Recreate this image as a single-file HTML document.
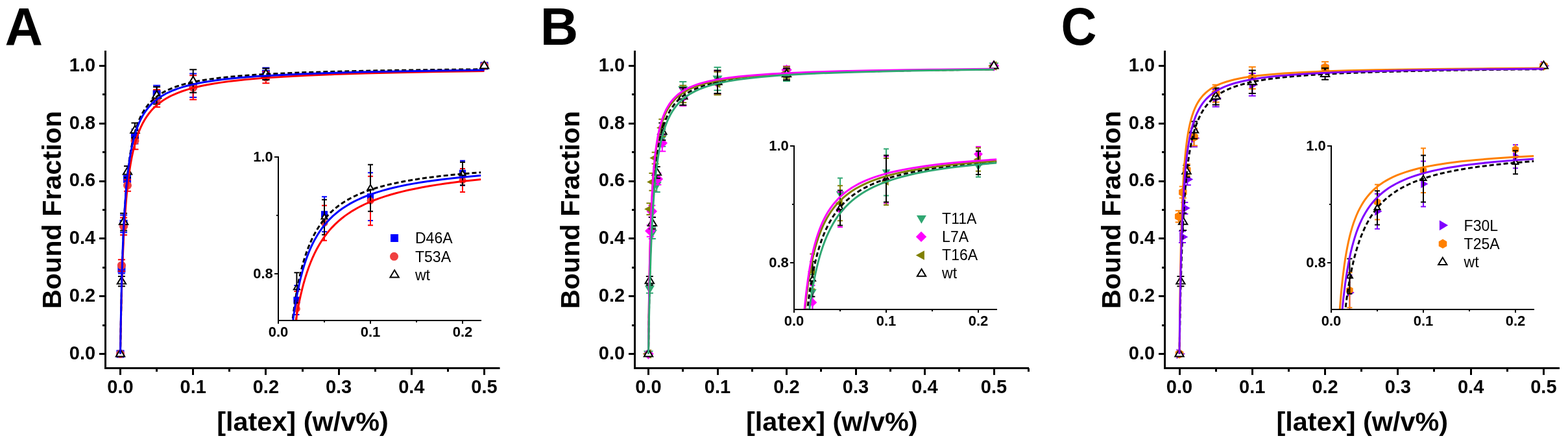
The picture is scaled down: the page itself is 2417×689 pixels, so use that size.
<!DOCTYPE html>
<html><head><meta charset="utf-8"><title>Bound fraction vs latex</title>
<style>html,body{margin:0;padding:0;background:#fff;}svg{display:block;}</style>
</head><body>
<svg width="2417" height="689" viewBox="0 0 2417 689">
<rect width="2417" height="689" fill="#fff"/>
<text transform="translate(7.47,68.8) scale(1.0,1)" font-size="81" font-family="Liberation Sans, Arial, sans-serif" font-weight="bold">A</text>
<text transform="translate(93.9,323.5) rotate(-90)" text-anchor="middle" font-size="41.3" font-family="Liberation Sans, Arial, sans-serif" font-weight="bold">Bound Fraction</text>
<text x="466.5" y="664" text-anchor="middle" font-size="41.4" font-family="Liberation Sans, Arial, sans-serif" font-weight="bold">[latex] (w/v%)</text>
<clipPath id="clipmA"><rect x="162.5" y="78" width="608" height="489.5"/></clipPath>
<g clip-path="url(#clipmA)">
<path d="M187.41 421.62V406.53M181.91 421.62H192.91M181.91 406.53H192.91" stroke="#0000FF" stroke-width="2" fill="none"/>
<path d="M190.55 358.13V331.49M185.05 358.13H196.05M185.05 331.49H196.05" stroke="#0000FF" stroke-width="2" fill="none"/>
<path d="M196.05 284.87V267.11M190.55 284.87H201.55M190.55 267.11H201.55" stroke="#0000FF" stroke-width="2" fill="none"/>
<path d="M207.94 221.38V199.18M202.44 221.38H213.44M202.44 199.18H213.44" stroke="#0000FF" stroke-width="2" fill="none"/>
<path d="M241.6 158.33V131.69M236.1 158.33H247.1M236.1 131.69H247.1" stroke="#0000FF" stroke-width="2" fill="none"/>
<path d="M297.7 149.9V113.49M292.2 149.9H303.2M292.2 113.49H303.2" stroke="#0000FF" stroke-width="2" fill="none"/>
<path d="M409.9 123.03V104.39M404.4 123.03H415.4M404.4 104.39H415.4" stroke="#0000FF" stroke-width="2" fill="none"/>
<rect x="179.5" y="539.5" width="12" height="12" fill="#0000FF"/>
<rect x="181.41" y="408.08" width="12" height="12" fill="#0000FF"/>
<rect x="184.55" y="338.81" width="12" height="12" fill="#0000FF"/>
<rect x="190.05" y="269.99" width="12" height="12" fill="#0000FF"/>
<rect x="201.94" y="204.28" width="12" height="12" fill="#0000FF"/>
<rect x="235.6" y="139.01" width="12" height="12" fill="#0000FF"/>
<rect x="291.7" y="125.69" width="12" height="12" fill="#0000FF"/>
<rect x="403.9" y="107.71" width="12" height="12" fill="#0000FF"/>
<rect x="740.5" y="95.5" width="12" height="12" fill="#0000FF"/>
<path d="M187.41 418.07V400.31M181.91 418.07H192.91M181.91 400.31H192.91" stroke="#FF0000" stroke-width="2" fill="none"/>
<path d="M190.55 362.13V335.49M185.05 362.13H196.05M185.05 335.49H196.05" stroke="#FF0000" stroke-width="2" fill="none"/>
<path d="M196.5 294.64V276.88M191 294.64H202M191 276.88H202" stroke="#FF0000" stroke-width="2" fill="none"/>
<path d="M207.94 230.26V203.62M202.44 230.26H213.44M202.44 203.62H213.44" stroke="#FF0000" stroke-width="2" fill="none"/>
<path d="M241.6 164.99V138.35M236.1 164.99H247.1M236.1 138.35H247.1" stroke="#FF0000" stroke-width="2" fill="none"/>
<path d="M297.7 153.45V116.15M292.2 153.45H303.2M292.2 116.15H303.2" stroke="#FF0000" stroke-width="2" fill="none"/>
<path d="M409.9 128.14V110.38M404.4 128.14H415.4M404.4 110.38H415.4" stroke="#FF0000" stroke-width="2" fill="none"/>
<circle cx="185.5" cy="545.5" r="6.5" fill="#F04040"/>
<circle cx="187.41" cy="409.19" r="6.5" fill="#F04040"/>
<circle cx="190.55" cy="348.81" r="6.5" fill="#F04040"/>
<circle cx="196.5" cy="285.76" r="6.5" fill="#F04040"/>
<circle cx="207.94" cy="216.94" r="6.5" fill="#F04040"/>
<circle cx="241.6" cy="151.67" r="6.5" fill="#F04040"/>
<circle cx="297.7" cy="134.8" r="6.5" fill="#F04040"/>
<circle cx="409.9" cy="119.26" r="6.5" fill="#F04040"/>
<circle cx="746.5" cy="101.5" r="6.5" fill="#F04040"/>
<path d="M187.41 441.16V426.06M181.91 441.16H192.91M181.91 426.06H192.91" stroke="#000" stroke-width="2" fill="none"/>
<path d="M190.55 355.47V328.83M185.05 355.47H196.05M185.05 328.83H196.05" stroke="#000" stroke-width="2" fill="none"/>
<path d="M196.5 273.77V256.01M191 273.77H202M191 256.01H202" stroke="#000" stroke-width="2" fill="none"/>
<path d="M207.94 212.5V189.41M202.44 212.5H213.44M202.44 189.41H213.44" stroke="#000" stroke-width="2" fill="none"/>
<path d="M241.6 160.55V133.91M236.1 160.55H247.1M236.1 133.91H247.1" stroke="#000" stroke-width="2" fill="none"/>
<path d="M297.7 142.79V107.27M292.2 142.79H303.2M292.2 107.27H303.2" stroke="#000" stroke-width="2" fill="none"/>
<path d="M409.9 122.9V105.41M404.4 122.9H415.4M404.4 105.41H415.4" stroke="#000" stroke-width="2" fill="none"/>
<polygon points="185.5,538.35 192.19,549.47 178.81,549.47" fill="#fff" stroke="#000" stroke-width="2"/>
<polygon points="187.41,426.46 194.09,437.59 180.72,437.59" fill="#fff" stroke="#000" stroke-width="2"/>
<polygon points="190.55,335 197.24,346.12 183.86,346.12" fill="#fff" stroke="#000" stroke-width="2"/>
<polygon points="196.5,257.74 203.18,268.87 189.81,268.87" fill="#fff" stroke="#000" stroke-width="2"/>
<polygon points="207.94,193.8 214.63,204.93 201.25,204.93" fill="#fff" stroke="#000" stroke-width="2"/>
<polygon points="241.6,140.08 248.29,151.21 234.91,151.21" fill="#fff" stroke="#000" stroke-width="2"/>
<polygon points="297.7,117.88 304.39,129.01 291.01,129.01" fill="#fff" stroke="#000" stroke-width="2"/>
<polygon points="409.9,107 416.59,118.13 403.21,118.13" fill="#fff" stroke="#000" stroke-width="2"/>
<polygon points="746.5,94.35 753.19,105.47 739.81,105.47" fill="#fff" stroke="#000" stroke-width="2"/>
<path d="M185.50 545.50 L186.52 487.57 L187.67 437.64 L188.98 394.25 L190.50 356.41 L192.25 323.19 L194.25 294.48 L196.53 269.68 L197.81 258.33 L199.17 247.80 L200.63 238.04 L202.17 229.01 L203.86 220.37 L205.65 212.42 L207.61 204.86 L209.68 197.91 L211.87 191.53 L214.24 185.48 L216.82 179.76 L219.54 174.53 L222.49 169.59 L225.58 165.08 L228.92 160.83 L232.53 156.83 L236.43 153.08 L240.51 149.66 L244.91 146.45 L249.63 143.44 L254.71 140.62 L260.16 138.00 L266.01 135.54 L272.28 133.25 L278.99 131.12 L286.17 129.13 L293.84 127.29 L302.22 125.53 L310.97 123.93 L320.51 122.42 L330.68 121.02 L341.50 119.71 L353.26 118.48 L365.76 117.34 L393.43 115.30 L425.47 113.50 L462.44 111.93 L504.63 110.58 L553.35 109.39 L609.05 108.37 L672.94 107.48 L746.50 106.70" fill="none" stroke="#000" stroke-width="3" stroke-dasharray="7 4"/>
<path d="M185.50 545.50 L186.36 494.57 L187.55 445.69 L188.96 403.14 L190.61 366.09 L192.52 333.80 L194.72 305.62 L195.96 292.75 L197.25 281.07 L198.67 269.77 L200.20 259.24 L201.83 249.44 L203.56 240.32 L205.40 231.86 L207.41 223.75 L209.54 216.25 L211.87 209.09 L214.32 202.47 L216.91 196.37 L219.72 190.55 L222.67 185.19 L225.87 180.09 L229.33 175.26 L232.96 170.81 L236.87 166.60 L241.09 162.62 L245.52 158.96 L250.27 155.50 L255.38 152.23 L260.86 149.16 L266.74 146.26 L273.04 143.54 L279.79 140.98 L287.00 138.58 L294.54 136.37 L302.58 134.30 L311.35 132.32 L320.51 130.49 L330.47 128.75 L341.07 127.11 L352.35 125.58 L364.34 124.15 L377.08 122.81 L405.23 120.37 L437.44 118.20 L474.22 116.27 L515.74 114.59 L562.86 113.10 L616.59 111.78 L677.25 110.61 L746.50 109.58" fill="none" stroke="#FF0000" stroke-width="3"/>
<path d="M185.50 545.50 L186.31 491.76 L187.38 441.52 L188.66 397.53 L190.15 359.73 L191.86 327.13 L193.87 298.47 L195.00 285.45 L196.17 273.72 L197.48 262.39 L198.87 251.88 L200.36 242.14 L201.94 233.11 L203.68 224.49 L205.53 216.54 L207.48 209.20 L209.61 202.22 L211.87 195.80 L214.32 189.71 L216.91 184.11 L219.72 178.81 L222.76 173.80 L225.96 169.20 L229.43 164.87 L233.06 160.90 L236.98 157.15 L241.21 153.62 L245.76 150.31 L250.66 147.19 L255.92 144.27 L261.57 141.53 L267.63 138.97 L273.97 136.63 L280.91 134.39 L288.35 132.30 L296.30 130.34 L304.79 128.51 L313.85 126.81 L323.51 125.22 L333.81 123.74 L345.00 122.33 L356.90 121.03 L369.57 119.81 L397.84 117.58 L429.99 115.64 L466.75 113.93 L508.98 112.43 L556.99 111.12 L612.21 109.96 L675.10 108.95 L746.50 108.06" fill="none" stroke="#0000FF" stroke-width="3"/>
</g>
<path d="M162.5 78V567.5M161 567.5H770.5" stroke="#000" stroke-width="3" fill="none" stroke-linecap="butt"/>
<path d="M153 545.5H162.5M153 456.5H162.5M153 367.5H162.5M153 279.5H162.5M153 190.5H162.5M153 101.5H162.5M158 501.5H162.5M158 412.5H162.5M158 323.5H162.5M158 234.5H162.5M158 145.5H162.5M185.5 567.5V578M297.5 567.5V578M409.5 567.5V578M522.5 567.5V578M634.5 567.5V578M746.5 567.5V578M241.5 567.5V573M353.5 567.5V573M466.5 567.5V573M578.5 567.5V573M690.5 567.5V573" stroke="#000" stroke-width="3" fill="none"/>
<text x="147.2" y="553.8" text-anchor="end" font-size="29" font-family="Liberation Sans, Arial, sans-serif" font-weight="bold">0.0</text>
<text x="147.2" y="465" text-anchor="end" font-size="29" font-family="Liberation Sans, Arial, sans-serif" font-weight="bold">0.2</text>
<text x="147.2" y="376.2" text-anchor="end" font-size="29" font-family="Liberation Sans, Arial, sans-serif" font-weight="bold">0.4</text>
<text x="147.2" y="287.4" text-anchor="end" font-size="29" font-family="Liberation Sans, Arial, sans-serif" font-weight="bold">0.6</text>
<text x="147.2" y="198.6" text-anchor="end" font-size="29" font-family="Liberation Sans, Arial, sans-serif" font-weight="bold">0.8</text>
<text x="147.2" y="109.8" text-anchor="end" font-size="29" font-family="Liberation Sans, Arial, sans-serif" font-weight="bold">1.0</text>
<text x="185.5" y="605.7" text-anchor="middle" font-size="29" font-family="Liberation Sans, Arial, sans-serif" font-weight="bold">0.0</text>
<text x="297.7" y="605.7" text-anchor="middle" font-size="29" font-family="Liberation Sans, Arial, sans-serif" font-weight="bold">0.1</text>
<text x="409.9" y="605.7" text-anchor="middle" font-size="29" font-family="Liberation Sans, Arial, sans-serif" font-weight="bold">0.2</text>
<text x="522.1" y="605.7" text-anchor="middle" font-size="29" font-family="Liberation Sans, Arial, sans-serif" font-weight="bold">0.3</text>
<text x="634.3" y="605.7" text-anchor="middle" font-size="29" font-family="Liberation Sans, Arial, sans-serif" font-weight="bold">0.4</text>
<text x="746.5" y="605.7" text-anchor="middle" font-size="29" font-family="Liberation Sans, Arial, sans-serif" font-weight="bold">0.5</text>
<clipPath id="clipiA"><rect x="429" y="239" width="312.4" height="255"/></clipPath>
<g clip-path="url(#clipiA)">
<path d="M431.41 890.9V860.3M427.41 890.9H435.41M427.41 860.3H435.41" stroke="#0000FF" stroke-width="2" fill="none"/>
<path d="M435.39 762.2V708.2M431.39 762.2H439.39M431.39 708.2H439.39" stroke="#0000FF" stroke-width="2" fill="none"/>
<path d="M442.35 613.7V577.7M438.35 613.7H446.35M438.35 577.7H446.35" stroke="#0000FF" stroke-width="2" fill="none"/>
<path d="M457.4 485V440M453.4 485H461.4M453.4 440H461.4" stroke="#0000FF" stroke-width="2" fill="none"/>
<path d="M500 357.2V303.2M496 357.2H504M496 303.2H504" stroke="#0000FF" stroke-width="2" fill="none"/>
<path d="M571 340.1V266.3M567 340.1H575M567 266.3H575" stroke="#0000FF" stroke-width="2" fill="none"/>
<path d="M713 285.65V247.85M709 285.65H717M709 247.85H717" stroke="#0000FF" stroke-width="2" fill="none"/>
<rect x="426.37" y="870.56" width="10.08" height="10.08" fill="#0000FF"/>
<rect x="430.35" y="730.16" width="10.08" height="10.08" fill="#0000FF"/>
<rect x="437.31" y="590.66" width="10.08" height="10.08" fill="#0000FF"/>
<rect x="452.36" y="457.46" width="10.08" height="10.08" fill="#0000FF"/>
<rect x="494.96" y="325.16" width="10.08" height="10.08" fill="#0000FF"/>
<rect x="565.96" y="298.16" width="10.08" height="10.08" fill="#0000FF"/>
<rect x="707.96" y="261.71" width="10.08" height="10.08" fill="#0000FF"/>
<rect x="1133.96" y="236.96" width="10.08" height="10.08" fill="#0000FF"/>
<path d="M431.41 883.7V847.7M427.41 883.7H435.41M427.41 847.7H435.41" stroke="#FF0000" stroke-width="2" fill="none"/>
<path d="M435.39 770.3V716.3M431.39 770.3H439.39M431.39 716.3H439.39" stroke="#FF0000" stroke-width="2" fill="none"/>
<path d="M442.92 633.5V597.5M438.92 633.5H446.92M438.92 597.5H446.92" stroke="#FF0000" stroke-width="2" fill="none"/>
<path d="M457.4 503V449M453.4 503H461.4M453.4 449H461.4" stroke="#FF0000" stroke-width="2" fill="none"/>
<path d="M500 370.7V316.7M496 370.7H504M496 316.7H504" stroke="#FF0000" stroke-width="2" fill="none"/>
<path d="M571 347.3V271.7M567 347.3H575M567 271.7H575" stroke="#FF0000" stroke-width="2" fill="none"/>
<path d="M713 296V260M709 296H717M709 260H717" stroke="#FF0000" stroke-width="2" fill="none"/>
<circle cx="431.41" cy="865.7" r="5.46" fill="#F04040"/>
<circle cx="435.39" cy="743.3" r="5.46" fill="#F04040"/>
<circle cx="442.92" cy="615.5" r="5.46" fill="#F04040"/>
<circle cx="457.4" cy="476" r="5.46" fill="#F04040"/>
<circle cx="500" cy="343.7" r="5.46" fill="#F04040"/>
<circle cx="571" cy="309.5" r="5.46" fill="#F04040"/>
<circle cx="713" cy="278" r="5.46" fill="#F04040"/>
<circle cx="1139" cy="242" r="5.46" fill="#F04040"/>
<path d="M431.41 930.5V899.9M427.41 930.5H435.41M427.41 899.9H435.41" stroke="#000" stroke-width="2" fill="none"/>
<path d="M435.39 756.8V702.8M431.39 756.8H439.39M431.39 702.8H439.39" stroke="#000" stroke-width="2" fill="none"/>
<path d="M442.92 591.2V555.2M438.92 591.2H446.92M438.92 555.2H446.92" stroke="#000" stroke-width="2" fill="none"/>
<path d="M457.4 467V420.2M453.4 467H461.4M453.4 420.2H461.4" stroke="#000" stroke-width="2" fill="none"/>
<path d="M500 361.7V307.7M496 361.7H504M496 307.7H504" stroke="#000" stroke-width="2" fill="none"/>
<path d="M571 325.7V253.7M567 325.7H575M567 253.7H575" stroke="#000" stroke-width="2" fill="none"/>
<path d="M713 285.38V249.92M709 285.38H717M709 249.92H717" stroke="#000" stroke-width="2" fill="none"/>
<polygon points="431.41,910.34 435.96,917.9 426.87,917.9" fill="#fff" stroke="#000" stroke-width="2"/>
<polygon points="435.39,724.94 439.94,732.5 430.84,732.5" fill="#fff" stroke="#000" stroke-width="2"/>
<polygon points="442.92,568.34 447.46,575.9 438.37,575.9" fill="#fff" stroke="#000" stroke-width="2"/>
<polygon points="457.4,438.74 461.95,446.3 452.85,446.3" fill="#fff" stroke="#000" stroke-width="2"/>
<polygon points="500,329.84 504.55,337.4 495.45,337.4" fill="#fff" stroke="#000" stroke-width="2"/>
<polygon points="571,284.84 575.55,292.4 566.45,292.4" fill="#fff" stroke="#000" stroke-width="2"/>
<polygon points="713,262.79 717.55,270.35 708.45,270.35" fill="#fff" stroke="#000" stroke-width="2"/>
<polygon points="1139,237.14 1143.55,244.7 1134.45,244.7" fill="#fff" stroke="#000" stroke-width="2"/>
<path d="M433.26 842.39 L434.61 784.85 L436.11 732.64 L437.76 685.85 L439.59 643.19 L441.60 604.88 L443.85 569.83 L446.31 538.45 L449.05 509.97 L452.10 484.00 L453.73 472.13 L455.43 460.86 L457.22 450.17 L459.15 439.74 L461.11 430.17 L463.22 420.84 L465.43 412.05 L467.72 403.75 L470.19 395.70 L472.76 388.12 L475.43 380.99 L478.29 374.09 L481.26 367.61 L484.43 361.35 L487.73 355.48 L491.15 349.97 L494.80 344.66 L498.68 339.54 L502.70 334.76 L506.98 330.15 L511.41 325.84 L516.12 321.70 L521.11 317.74 L526.28 314.03 L531.75 310.47 L537.55 307.07 L543.55 303.89 L549.89 300.84 L556.60 297.93 L563.69 295.16 L571.17 292.51 L578.90 290.04 L587.06 287.68 L595.67 285.43 L604.73 283.28 L614.28 281.24 L624.33 279.30 L634.91 277.45 L645.84 275.73 L657.53 274.06 L682.74 270.97 L710.54 268.19 L741.40 265.66" fill="none" stroke="#000" stroke-width="3" stroke-dasharray="7 4"/>
<path d="M433.26 858.55 L434.69 803.72 L436.29 754.00 L438.07 708.56 L440.05 667.22 L442.26 629.30 L444.68 595.27 L447.38 564.13 L450.33 536.02 L453.63 510.16 L455.38 498.26 L457.22 486.89 L459.15 476.06 L461.23 465.46 L463.35 455.66 L465.62 446.08 L468.00 436.99 L470.48 428.37 L473.06 420.20 L475.82 412.25 L478.69 404.72 L481.68 397.59 L484.79 390.85 L488.10 384.30 L491.63 377.94 L495.29 371.95 L499.09 366.28 L503.12 360.80 L507.31 355.62 L511.75 350.62 L516.35 345.90 L521.23 341.33 L526.28 337.03 L531.62 332.88 L537.28 328.88 L543.13 325.10 L549.32 321.47 L555.71 318.04 L562.46 314.75 L569.59 311.57 L577.11 308.52 L584.87 305.65 L593.06 302.89 L601.50 300.29 L610.39 297.79 L619.74 295.38 L629.58 293.08 L639.73 290.91 L650.60 288.79 L661.80 286.79 L673.57 284.88 L685.92 283.04 L712.47 279.60 L741.40 276.47" fill="none" stroke="#FF0000" stroke-width="3"/>
<path d="M433.26 830.09 L434.60 775.49 L436.10 726.13 L437.76 681.55 L439.61 640.90 L441.66 604.35 L443.95 570.88 L446.50 540.43 L449.31 513.13 L452.44 488.17 L454.08 476.90 L455.86 465.84 L457.72 455.35 L459.68 445.39 L461.72 435.95 L463.86 427.01 L466.09 418.55 L468.49 410.30 L470.98 402.52 L473.66 394.96 L476.45 387.84 L479.35 381.12 L482.36 374.78 L485.58 368.64 L489.01 362.70 L492.58 357.12 L496.27 351.86 L500.21 346.78 L504.29 342.01 L508.62 337.40 L513.23 332.97 L518.00 328.80 L523.06 324.79 L528.29 321.02 L533.84 317.40 L539.71 313.92 L545.78 310.65 L552.20 307.51 L558.99 304.50 L566.00 301.67 L573.40 298.96 L581.21 296.36 L589.44 293.88 L597.95 291.54 L607.09 289.26 L616.53 287.12 L626.46 285.08 L636.91 283.12 L647.90 281.26 L659.45 279.47 L684.10 276.17 L711.26 273.16 L741.40 270.41" fill="none" stroke="#0000FF" stroke-width="3"/>
</g>
<path d="M429 241V494M428 494H742" stroke="#000" stroke-width="2" fill="none"/>
<path d="M423 422H429M423 242H429M426 332H429M429 494V499M571 494V499M713 494V499M500 494V497M642 494V497" stroke="#000" stroke-width="2" fill="none"/>
<text x="420.8" y="429" text-anchor="end" font-size="22" font-family="Liberation Sans, Arial, sans-serif" font-weight="bold">0.8</text>
<text x="420.8" y="249" text-anchor="end" font-size="22" font-family="Liberation Sans, Arial, sans-serif" font-weight="bold">1.0</text>
<text x="429" y="518.8" text-anchor="middle" font-size="22" font-family="Liberation Sans, Arial, sans-serif" font-weight="bold">0.0</text>
<text x="571" y="518.8" text-anchor="middle" font-size="22" font-family="Liberation Sans, Arial, sans-serif" font-weight="bold">0.1</text>
<text x="713" y="518.8" text-anchor="middle" font-size="22" font-family="Liberation Sans, Arial, sans-serif" font-weight="bold">0.2</text>
<rect x="602" y="361" width="12" height="12" fill="#0000FF"/>
<text x="640" y="374.6" font-size="23" font-family="Liberation Sans, Arial, sans-serif">D46A</text>
<circle cx="607.5" cy="395.3" r="6.5" fill="#F04040"/>
<text x="640" y="403.6" font-size="23" font-family="Liberation Sans, Arial, sans-serif">T53A</text>
<polygon points="608.1,416.34 614.79,427.46 601.41,427.46" fill="#fff" stroke="#000" stroke-width="2"/>
<text x="640" y="431.6" font-size="23" font-family="Liberation Sans, Arial, sans-serif">wt</text>
<text transform="translate(832.77,68.8) scale(1.0,1)" font-size="81" font-family="Liberation Sans, Arial, sans-serif" font-weight="bold">B</text>
<text transform="translate(893.1,323.5) rotate(-90)" text-anchor="middle" font-size="41.3" font-family="Liberation Sans, Arial, sans-serif" font-weight="bold">Bound Fraction</text>
<text x="1282.3" y="664" text-anchor="middle" font-size="41.4" font-family="Liberation Sans, Arial, sans-serif" font-weight="bold">[latex] (w/v%)</text>
<clipPath id="clipmB"><rect x="978.5" y="78" width="607.5" height="489.5"/></clipPath>
<g clip-path="url(#clipmB)">
<path d="M1001.42 451.82V438.5M995.92 451.82H1006.92M995.92 438.5H1006.92" stroke="#30A772" stroke-width="2" fill="none"/>
<path d="M1005.36 367.9V350.14M999.86 367.9H1010.86M999.86 350.14H1010.86" stroke="#30A772" stroke-width="2" fill="none"/>
<path d="M1012.28 295.97V273.77M1006.78 295.97H1017.78M1006.78 273.77H1017.78" stroke="#30A772" stroke-width="2" fill="none"/>
<path d="M1020.8 225.82V199.18M1015.3 225.82H1026.3M1015.3 199.18H1026.3" stroke="#30A772" stroke-width="2" fill="none"/>
<path d="M1052.75 149.9V125.92M1047.25 149.9H1058.25M1047.25 125.92H1058.25" stroke="#30A772" stroke-width="2" fill="none"/>
<path d="M1106 139.24V103.72M1100.5 139.24H1111.5M1100.5 103.72H1111.5" stroke="#30A772" stroke-width="2" fill="none"/>
<path d="M1212.5 125.03V109.05M1207 125.03H1218M1207 109.05H1218" stroke="#30A772" stroke-width="2" fill="none"/>
<polygon points="992,540.54 1007,540.54 999.5,553.29" fill="#30A772"/>
<polygon points="993.92,440.2 1008.92,440.2 1001.42,452.95" fill="#30A772"/>
<polygon points="997.86,354.06 1012.86,354.06 1005.36,366.81" fill="#30A772"/>
<polygon points="1004.78,279.91 1019.78,279.91 1012.28,292.66" fill="#30A772"/>
<polygon points="1013.3,207.54 1028.3,207.54 1020.8,220.29" fill="#30A772"/>
<polygon points="1045.25,132.95 1060.25,132.95 1052.75,145.7" fill="#30A772"/>
<polygon points="1098.5,116.52 1113.5,116.52 1106,129.27" fill="#30A772"/>
<polygon points="1205,112.08 1220,112.08 1212.5,124.83" fill="#30A772"/>
<polygon points="1524.5,96.54 1539.5,96.54 1532,109.29" fill="#30A772"/>
<path d="M1002.27 364.79V347.03M996.77 364.79H1007.77M996.77 347.03H1007.77" stroke="#FF00FF" stroke-width="2" fill="none"/>
<path d="M1004.83 334.6V316.84M999.33 334.6H1010.33M999.33 316.84H1010.33" stroke="#FF00FF" stroke-width="2" fill="none"/>
<path d="M1013.88 284.87V267.11M1008.38 284.87H1019.38M1008.38 267.11H1019.38" stroke="#FF00FF" stroke-width="2" fill="none"/>
<path d="M1020.8 233.37V207.62M1015.3 233.37H1026.3M1015.3 207.62H1026.3" stroke="#FF00FF" stroke-width="2" fill="none"/>
<path d="M1052.75 163.22V136.58M1047.25 163.22H1058.25M1047.25 136.58H1058.25" stroke="#FF00FF" stroke-width="2" fill="none"/>
<path d="M1106 145.01V109.49M1100.5 145.01H1111.5M1100.5 109.49H1111.5" stroke="#FF00FF" stroke-width="2" fill="none"/>
<path d="M1212.5 113.49V101.94M1207 113.49H1218M1207 101.94H1218" stroke="#FF00FF" stroke-width="2" fill="none"/>
<polygon points="999.5,537.3 1007.7,545.5 999.5,553.7 991.3,545.5" fill="#FF00FF"/>
<polygon points="1002.27,347.71 1010.47,355.91 1002.27,364.11 994.07,355.91" fill="#FF00FF"/>
<polygon points="1004.83,317.52 1013.03,325.72 1004.83,333.92 996.62,325.72" fill="#FF00FF"/>
<polygon points="1013.88,267.79 1022.08,275.99 1013.88,284.19 1005.68,275.99" fill="#FF00FF"/>
<polygon points="1020.8,212.29 1029,220.49 1020.8,228.69 1012.6,220.49" fill="#FF00FF"/>
<polygon points="1052.75,141.7 1060.95,149.9 1052.75,158.1 1044.55,149.9" fill="#FF00FF"/>
<polygon points="1106,119.05 1114.2,127.25 1106,135.45 1097.8,127.25" fill="#FF00FF"/>
<polygon points="1212.5,99.52 1220.7,107.72 1212.5,115.92 1204.3,107.72" fill="#FF00FF"/>
<polygon points="1532,93.3 1540.2,101.5 1532,109.7 1523.8,101.5" fill="#FF00FF"/>
<path d="M1001.95 331.05V313.29M996.45 331.05H1007.45M996.45 313.29H1007.45" stroke="#808000" stroke-width="2" fill="none"/>
<path d="M1005.89 293.75V267.11M1000.39 293.75H1011.39M1000.39 267.11H1011.39" stroke="#808000" stroke-width="2" fill="none"/>
<path d="M1010.15 252.46V234.7M1004.65 252.46H1015.65M1004.65 234.7H1015.65" stroke="#808000" stroke-width="2" fill="none"/>
<path d="M1020.8 210.28V183.64M1015.3 210.28H1026.3M1015.3 183.64H1026.3" stroke="#808000" stroke-width="2" fill="none"/>
<path d="M1052.75 158.33V131.69M1047.25 158.33H1058.25M1047.25 131.69H1058.25" stroke="#808000" stroke-width="2" fill="none"/>
<path d="M1106 146.34V110.82M1100.5 146.34H1111.5M1100.5 110.82H1111.5" stroke="#808000" stroke-width="2" fill="none"/>
<path d="M1212.5 120.59V102.83M1207 120.59H1218M1207 102.83H1218" stroke="#808000" stroke-width="2" fill="none"/>
<polygon points="990.7,545.5 1003.9,538.25 1003.9,552.75" fill="#808000"/>
<polygon points="993.15,322.17 1006.35,314.92 1006.35,329.42" fill="#808000"/>
<polygon points="997.09,280.43 1010.29,273.18 1010.29,287.68" fill="#808000"/>
<polygon points="1001.35,243.58 1014.55,236.33 1014.55,250.83" fill="#808000"/>
<polygon points="1012,196.96 1025.2,189.71 1025.2,204.21" fill="#808000"/>
<polygon points="1043.95,145.01 1057.15,137.76 1057.15,152.26" fill="#808000"/>
<polygon points="1097.2,128.58 1110.4,121.33 1110.4,135.83" fill="#808000"/>
<polygon points="1203.7,111.71 1216.9,104.46 1216.9,118.96" fill="#808000"/>
<polygon points="1523.2,101.5 1536.4,94.25 1536.4,108.75" fill="#808000"/>
<path d="M1001.31 439.38V426.06M995.81 439.38H1006.81M995.81 426.06H1006.81" stroke="#000" stroke-width="2" fill="none"/>
<path d="M1005.46 352.8V335.04M999.96 352.8H1010.96M999.96 335.04H1010.96" stroke="#000" stroke-width="2" fill="none"/>
<path d="M1012.28 274.66V256.9M1006.78 274.66H1017.78M1006.78 256.9H1017.78" stroke="#000" stroke-width="2" fill="none"/>
<path d="M1020.8 216.05V189.41M1015.3 216.05H1026.3M1015.3 189.41H1026.3" stroke="#000" stroke-width="2" fill="none"/>
<path d="M1052.75 161.88V135.24M1047.25 161.88H1058.25M1047.25 135.24H1058.25" stroke="#000" stroke-width="2" fill="none"/>
<path d="M1106 144.12V108.6M1100.5 144.12H1111.5M1100.5 108.6H1111.5" stroke="#000" stroke-width="2" fill="none"/>
<path d="M1212.5 123.26V105.5M1207 123.26H1218M1207 105.5H1218" stroke="#000" stroke-width="2" fill="none"/>
<polygon points="999.5,538.35 1006.19,549.47 992.81,549.47" fill="#fff" stroke="#000" stroke-width="2"/>
<polygon points="1001.31,425.57 1008,436.7 994.62,436.7" fill="#fff" stroke="#000" stroke-width="2"/>
<polygon points="1005.46,336.77 1012.15,347.9 998.78,347.9" fill="#fff" stroke="#000" stroke-width="2"/>
<polygon points="1012.28,258.63 1018.97,269.75 1005.59,269.75" fill="#fff" stroke="#000" stroke-width="2"/>
<polygon points="1020.8,195.58 1027.49,206.71 1014.11,206.71" fill="#fff" stroke="#000" stroke-width="2"/>
<polygon points="1052.75,141.41 1059.44,152.54 1046.06,152.54" fill="#fff" stroke="#000" stroke-width="2"/>
<polygon points="1106,119.21 1112.69,130.34 1099.31,130.34" fill="#fff" stroke="#000" stroke-width="2"/>
<polygon points="1212.5,107.22 1219.19,118.35 1205.81,118.35" fill="#fff" stroke="#000" stroke-width="2"/>
<polygon points="1532,94.35 1538.69,105.47 1525.31,105.47" fill="#fff" stroke="#000" stroke-width="2"/>
<path d="M999.50 545.50 L1000.28 489.47 L1001.28 437.90 L1002.44 393.80 L1003.79 355.60 L1005.33 322.84 L1007.13 294.12 L1009.23 269.00 L1010.39 257.74 L1011.63 247.31 L1012.96 237.66 L1014.42 228.43 L1015.97 219.92 L1017.62 212.10 L1019.42 204.65 L1021.33 197.82 L1023.41 191.34 L1025.60 185.40 L1027.99 179.79 L1030.51 174.65 L1033.23 169.80 L1036.19 165.23 L1039.30 161.06 L1042.65 157.13 L1046.28 153.45 L1050.19 149.99 L1054.40 146.75 L1058.94 143.72 L1063.81 140.89 L1068.92 138.32 L1074.41 135.91 L1080.43 133.61 L1086.73 131.51 L1093.63 129.51 L1101.02 127.66 L1108.91 125.93 L1117.34 124.32 L1126.33 122.83 L1135.92 121.44 L1146.35 120.13 L1157.45 118.91 L1169.48 117.76 L1195.89 115.71 L1226.48 113.90 L1261.50 112.33 L1301.79 110.96 L1347.98 109.77 L1401.16 108.72 L1462.18 107.81 L1532.00 107.02" fill="none" stroke="#000" stroke-width="3" stroke-dasharray="7 4"/>
<path d="M999.50 545.50 L1000.06 489.24 L1000.85 435.80 L1001.82 390.04 L1002.96 351.18 L1004.30 317.81 L1005.88 288.96 L1007.73 264.01 L1009.88 242.68 L1011.09 233.08 L1012.38 224.25 L1013.81 215.85 L1015.32 208.15 L1016.99 200.86 L1018.75 194.19 L1020.68 187.89 L1022.73 182.13 L1024.95 176.71 L1027.38 171.61 L1029.95 166.95 L1032.73 162.58 L1035.75 158.48 L1038.92 154.74 L1042.36 151.24 L1046.07 147.95 L1050.19 144.80 L1054.51 141.94 L1059.17 139.27 L1064.19 136.78 L1069.58 134.45 L1075.51 132.24 L1081.72 130.23 L1088.54 128.32 L1095.85 126.55 L1103.66 124.90 L1112.03 123.37 L1120.96 121.95 L1130.69 120.61 L1141.08 119.37 L1164.16 117.12 L1190.81 115.17 L1221.72 113.45 L1257.18 111.96 L1298.01 110.66 L1344.89 109.53 L1398.91 108.54 L1460.96 107.68 L1532.00 106.92" fill="none" stroke="#808000" stroke-width="3"/>
<path d="M999.50 545.50 L1000.09 487.66 L1000.88 434.23 L1001.84 388.03 L1002.96 348.85 L1004.27 315.26 L1005.81 286.28 L1007.62 261.26 L1009.71 239.91 L1010.91 230.15 L1012.19 221.19 L1013.55 212.98 L1015.05 205.20 L1016.64 198.08 L1018.39 191.35 L1020.24 185.21 L1022.25 179.43 L1024.46 173.99 L1026.78 169.04 L1029.31 164.39 L1031.98 160.16 L1034.87 156.18 L1038.00 152.46 L1041.39 148.98 L1045.05 145.74 L1049.01 142.71 L1053.27 139.88 L1057.87 137.26 L1062.82 134.81 L1068.14 132.54 L1073.86 130.44 L1080.00 128.48 L1086.58 126.66 L1093.63 124.97 L1101.35 123.38 L1109.60 121.90 L1118.60 120.50 L1128.22 119.22 L1138.49 118.03 L1161.33 115.89 L1187.94 114.02 L1218.59 112.40 L1254.03 111.00 L1294.88 109.78 L1342.16 108.71 L1396.67 107.79 L1459.74 106.98 L1532.00 106.29" fill="none" stroke="#FF00FF" stroke-width="3"/>
<path d="M999.50 545.50 L1000.49 489.10 L1001.64 439.94 L1002.96 396.78 L1004.48 358.88 L1006.23 326.02 L1008.21 297.48 L1010.48 272.74 L1011.73 261.58 L1013.11 250.84 L1014.53 241.21 L1016.09 231.96 L1017.74 223.42 L1019.55 215.26 L1021.46 207.75 L1023.48 200.83 L1025.68 194.25 L1027.99 188.21 L1030.51 182.48 L1033.15 177.22 L1036.01 172.24 L1039.11 167.55 L1042.36 163.25 L1045.87 159.20 L1049.65 155.39 L1053.61 151.91 L1057.99 148.54 L1062.57 145.47 L1067.50 142.59 L1072.78 139.90 L1078.44 137.38 L1084.50 135.02 L1090.99 132.82 L1097.93 130.76 L1105.34 128.84 L1113.25 127.06 L1121.69 125.39 L1130.88 123.81 L1140.68 122.34 L1151.10 120.98 L1162.20 119.71 L1174.22 118.51 L1200.81 116.34 L1231.03 114.47 L1265.87 112.82 L1305.59 111.39 L1351.08 110.14 L1403.41 109.04 L1463.41 108.08 L1532.00 107.25" fill="none" stroke="#30A772" stroke-width="3"/>
</g>
<path d="M978.5 78V567.5M977 567.5H1586" stroke="#000" stroke-width="3" fill="none" stroke-linecap="butt"/>
<path d="M969 545.5H978.5M969 456.5H978.5M969 367.5H978.5M969 279.5H978.5M969 190.5H978.5M969 101.5H978.5M974 501.5H978.5M974 412.5H978.5M974 323.5H978.5M974 234.5H978.5M974 145.5H978.5M999.5 567.5V578M1106.5 567.5V578M1212.5 567.5V578M1319.5 567.5V578M1425.5 567.5V578M1532.5 567.5V578M1052.5 567.5V573M1159.5 567.5V573M1265.5 567.5V573M1372.5 567.5V573M1478.5 567.5V573M1585.5 567.5V573" stroke="#000" stroke-width="3" fill="none"/>
<text x="963.2" y="553.8" text-anchor="end" font-size="29" font-family="Liberation Sans, Arial, sans-serif" font-weight="bold">0.0</text>
<text x="963.2" y="465" text-anchor="end" font-size="29" font-family="Liberation Sans, Arial, sans-serif" font-weight="bold">0.2</text>
<text x="963.2" y="376.2" text-anchor="end" font-size="29" font-family="Liberation Sans, Arial, sans-serif" font-weight="bold">0.4</text>
<text x="963.2" y="287.4" text-anchor="end" font-size="29" font-family="Liberation Sans, Arial, sans-serif" font-weight="bold">0.6</text>
<text x="963.2" y="198.6" text-anchor="end" font-size="29" font-family="Liberation Sans, Arial, sans-serif" font-weight="bold">0.8</text>
<text x="963.2" y="109.8" text-anchor="end" font-size="29" font-family="Liberation Sans, Arial, sans-serif" font-weight="bold">1.0</text>
<text x="999.5" y="605.7" text-anchor="middle" font-size="29" font-family="Liberation Sans, Arial, sans-serif" font-weight="bold">0.0</text>
<text x="1106" y="605.7" text-anchor="middle" font-size="29" font-family="Liberation Sans, Arial, sans-serif" font-weight="bold">0.1</text>
<text x="1212.5" y="605.7" text-anchor="middle" font-size="29" font-family="Liberation Sans, Arial, sans-serif" font-weight="bold">0.2</text>
<text x="1319" y="605.7" text-anchor="middle" font-size="29" font-family="Liberation Sans, Arial, sans-serif" font-weight="bold">0.3</text>
<text x="1425.5" y="605.7" text-anchor="middle" font-size="29" font-family="Liberation Sans, Arial, sans-serif" font-weight="bold">0.4</text>
<text x="1532" y="605.7" text-anchor="middle" font-size="29" font-family="Liberation Sans, Arial, sans-serif" font-weight="bold">0.5</text>
<clipPath id="clipiB"><rect x="1224" y="222" width="312.4" height="255"/></clipPath>
<g clip-path="url(#clipiB)">
<path d="M1226.56 935.1V908.1M1222.56 935.1H1230.56M1222.56 908.1H1230.56" stroke="#30A772" stroke-width="2" fill="none"/>
<path d="M1231.81 765V729M1227.81 765H1235.81M1227.81 729H1235.81" stroke="#30A772" stroke-width="2" fill="none"/>
<path d="M1241.04 619.2V574.2M1237.04 619.2H1245.04M1237.04 574.2H1245.04" stroke="#30A772" stroke-width="2" fill="none"/>
<path d="M1252.4 477V423M1248.4 477H1256.4M1248.4 423H1256.4" stroke="#30A772" stroke-width="2" fill="none"/>
<path d="M1295 323.1V274.5M1291 323.1H1299M1291 274.5H1299" stroke="#30A772" stroke-width="2" fill="none"/>
<path d="M1366 301.5V229.5M1362 301.5H1370M1362 229.5H1370" stroke="#30A772" stroke-width="2" fill="none"/>
<path d="M1508 272.7V240.3M1504 272.7H1512M1504 240.3H1512" stroke="#30A772" stroke-width="2" fill="none"/>
<polygon points="1220.26,917.44 1232.86,917.44 1226.56,928.15" fill="#30A772"/>
<polygon points="1225.51,742.84 1238.11,742.84 1231.81,753.55" fill="#30A772"/>
<polygon points="1234.74,592.54 1247.34,592.54 1241.04,603.25" fill="#30A772"/>
<polygon points="1246.1,445.83 1258.7,445.83 1252.4,456.55" fill="#30A772"/>
<polygon points="1288.7,294.63 1301.3,294.63 1295,305.34" fill="#30A772"/>
<polygon points="1359.7,261.34 1372.3,261.34 1366,272.05" fill="#30A772"/>
<polygon points="1501.7,252.34 1514.3,252.34 1508,263.05" fill="#30A772"/>
<polygon points="1927.7,220.84 1940.3,220.84 1934,231.54" fill="#30A772"/>
<path d="M1227.69 758.7V722.7M1223.69 758.7H1231.69M1223.69 722.7H1231.69" stroke="#FF00FF" stroke-width="2" fill="none"/>
<path d="M1231.1 697.5V661.5M1227.1 697.5H1235.1M1227.1 661.5H1235.1" stroke="#FF00FF" stroke-width="2" fill="none"/>
<path d="M1243.17 596.7V560.7M1239.17 596.7H1247.17M1239.17 560.7H1247.17" stroke="#FF00FF" stroke-width="2" fill="none"/>
<path d="M1252.4 492.3V440.1M1248.4 492.3H1256.4M1248.4 440.1H1256.4" stroke="#FF00FF" stroke-width="2" fill="none"/>
<path d="M1295 350.1V296.1M1291 350.1H1299M1291 296.1H1299" stroke="#FF00FF" stroke-width="2" fill="none"/>
<path d="M1366 313.2V241.2M1362 313.2H1370M1362 241.2H1370" stroke="#FF00FF" stroke-width="2" fill="none"/>
<path d="M1508 249.3V225.9M1504 249.3H1512M1504 225.9H1512" stroke="#FF00FF" stroke-width="2" fill="none"/>
<polygon points="1227.69,733.81 1234.58,740.7 1227.69,747.59 1220.8,740.7" fill="#FF00FF"/>
<polygon points="1231.1,672.61 1237.99,679.5 1231.1,686.39 1224.21,679.5" fill="#FF00FF"/>
<polygon points="1243.17,571.81 1250.06,578.7 1243.17,585.59 1236.28,578.7" fill="#FF00FF"/>
<polygon points="1252.4,459.31 1259.29,466.2 1252.4,473.09 1245.51,466.2" fill="#FF00FF"/>
<polygon points="1295,316.21 1301.89,323.1 1295,329.99 1288.11,323.1" fill="#FF00FF"/>
<polygon points="1366,270.31 1372.89,277.2 1366,284.09 1359.11,277.2" fill="#FF00FF"/>
<polygon points="1508,230.71 1514.89,237.6 1508,244.49 1501.11,237.6" fill="#FF00FF"/>
<polygon points="1934,218.11 1940.89,225 1934,231.89 1927.11,225" fill="#FF00FF"/>
<path d="M1227.27 690.3V654.3M1223.27 690.3H1231.27M1223.27 654.3H1231.27" stroke="#808000" stroke-width="2" fill="none"/>
<path d="M1232.52 614.7V560.7M1228.52 614.7H1236.52M1228.52 560.7H1236.52" stroke="#808000" stroke-width="2" fill="none"/>
<path d="M1238.2 531V495M1234.2 531H1242.2M1234.2 495H1242.2" stroke="#808000" stroke-width="2" fill="none"/>
<path d="M1252.4 445.5V391.5M1248.4 445.5H1256.4M1248.4 391.5H1256.4" stroke="#808000" stroke-width="2" fill="none"/>
<path d="M1295 340.2V286.2M1291 340.2H1299M1291 286.2H1299" stroke="#808000" stroke-width="2" fill="none"/>
<path d="M1366 315.9V243.9M1362 315.9H1370M1362 243.9H1370" stroke="#808000" stroke-width="2" fill="none"/>
<path d="M1508 263.7V227.7M1504 263.7H1512M1504 227.7H1512" stroke="#808000" stroke-width="2" fill="none"/>
<polygon points="1219.87,672.3 1230.96,666.21 1230.96,678.39" fill="#808000"/>
<polygon points="1225.13,587.7 1236.22,581.61 1236.22,593.79" fill="#808000"/>
<polygon points="1230.81,513 1241.9,506.91 1241.9,519.09" fill="#808000"/>
<polygon points="1245.01,418.5 1256.1,412.41 1256.1,424.59" fill="#808000"/>
<polygon points="1287.61,313.2 1298.7,307.11 1298.7,319.29" fill="#808000"/>
<polygon points="1358.61,279.9 1369.7,273.81 1369.7,285.99" fill="#808000"/>
<polygon points="1500.61,245.7 1511.7,239.61 1511.7,251.79" fill="#808000"/>
<polygon points="1926.61,225 1937.7,218.91 1937.7,231.09" fill="#808000"/>
<path d="M1226.41 909.9V882.9M1222.41 909.9H1230.41M1222.41 882.9H1230.41" stroke="#000" stroke-width="2" fill="none"/>
<path d="M1231.95 734.4V698.4M1227.95 734.4H1235.95M1227.95 698.4H1235.95" stroke="#000" stroke-width="2" fill="none"/>
<path d="M1241.04 576V540M1237.04 576H1245.04M1237.04 540H1245.04" stroke="#000" stroke-width="2" fill="none"/>
<path d="M1252.4 457.2V403.2M1248.4 457.2H1256.4M1248.4 403.2H1256.4" stroke="#000" stroke-width="2" fill="none"/>
<path d="M1295 347.4V293.4M1291 347.4H1299M1291 293.4H1299" stroke="#000" stroke-width="2" fill="none"/>
<path d="M1366 311.4V239.4M1362 311.4H1370M1362 239.4H1370" stroke="#000" stroke-width="2" fill="none"/>
<path d="M1508 269.1V233.1M1504 269.1H1512M1504 233.1H1512" stroke="#000" stroke-width="2" fill="none"/>
<polygon points="1226.41,891.54 1230.96,899.1 1221.87,899.1" fill="#fff" stroke="#000" stroke-width="2"/>
<polygon points="1231.95,711.54 1236.5,719.1 1227.4,719.1" fill="#fff" stroke="#000" stroke-width="2"/>
<polygon points="1241.04,553.14 1245.59,560.7 1236.49,560.7" fill="#fff" stroke="#000" stroke-width="2"/>
<polygon points="1252.4,425.34 1256.95,432.9 1247.85,432.9" fill="#fff" stroke="#000" stroke-width="2"/>
<polygon points="1295,315.54 1299.55,323.1 1290.45,323.1" fill="#fff" stroke="#000" stroke-width="2"/>
<polygon points="1366,270.54 1370.55,278.1 1361.45,278.1" fill="#fff" stroke="#000" stroke-width="2"/>
<polygon points="1508,246.24 1512.55,253.8 1503.45,253.8" fill="#fff" stroke="#000" stroke-width="2"/>
<polygon points="1934,220.14 1938.55,227.7 1929.45,227.7" fill="#fff" stroke="#000" stroke-width="2"/>
<path d="M1228.26 801.12 L1229.56 745.88 L1231.01 696.27 L1232.61 651.29 L1234.41 610.42 L1236.39 573.84 L1238.61 540.47 L1241.04 510.66 L1243.75 483.62 L1246.72 459.35 L1248.33 448.08 L1250.06 437.06 L1251.83 426.92 L1253.75 417.03 L1255.75 407.68 L1257.84 398.85 L1260.03 390.51 L1262.38 382.41 L1264.83 374.78 L1267.38 367.59 L1270.12 360.64 L1272.96 354.10 L1275.92 347.94 L1279.09 342.00 L1282.37 336.41 L1285.87 331.02 L1289.60 325.83 L1293.48 320.97 L1297.49 316.41 L1301.76 312.01 L1306.30 307.80 L1311.00 303.84 L1315.99 300.05 L1321.15 296.49 L1326.62 293.08 L1332.42 289.81 L1338.55 286.68 L1344.89 283.75 L1351.60 280.94 L1358.69 278.26 L1366.17 275.70 L1373.90 273.30 L1382.23 270.96 L1390.84 268.78 L1399.91 266.69 L1409.47 264.71 L1419.53 262.81 L1430.11 261.00 L1441.25 259.29 L1452.75 257.68 L1477.97 254.64 L1505.78 251.88 L1536.40 249.40" fill="none" stroke="#000" stroke-width="3" stroke-dasharray="7 4"/>
<path d="M1228.26 747.11 L1229.45 696.61 L1230.78 651.24 L1232.28 610.25 L1233.96 573.39 L1235.83 540.22 L1237.92 510.14 L1240.26 483.02 L1242.87 458.54 L1245.74 436.66 L1247.29 426.53 L1248.98 416.63 L1250.75 407.28 L1252.61 398.44 L1254.56 390.09 L1256.60 382.21 L1258.73 374.78 L1261.02 367.56 L1263.42 360.77 L1265.91 354.38 L1268.58 348.19 L1271.37 342.37 L1274.35 336.75 L1277.45 331.47 L1280.76 326.38 L1284.20 321.60 L1287.86 317.00 L1291.67 312.68 L1295.72 308.53 L1300.04 304.54 L1304.51 300.80 L1309.26 297.21 L1314.31 293.77 L1319.53 290.55 L1325.08 287.46 L1330.82 284.56 L1336.89 281.78 L1343.32 279.13 L1350.12 276.59 L1357.16 274.21 L1364.59 271.93 L1372.43 269.75 L1380.71 267.67 L1389.44 265.68 L1398.65 263.79 L1408.35 261.98 L1418.56 260.26 L1429.12 258.64 L1452.11 255.61 L1477.51 252.86 L1505.54 250.37 L1536.40 248.11" fill="none" stroke="#808000" stroke-width="3"/>
<path d="M1228.26 742.80 L1229.43 691.76 L1230.74 646.01 L1232.21 604.79 L1233.86 567.34 L1235.71 533.70 L1237.76 503.68 L1240.04 476.67 L1242.58 452.35 L1245.42 430.32 L1246.96 420.15 L1248.58 410.51 L1250.27 401.41 L1252.11 392.55 L1253.98 384.44 L1255.99 376.56 L1258.10 369.14 L1260.36 361.95 L1262.72 355.20 L1265.19 348.85 L1267.83 342.72 L1270.58 336.97 L1273.45 331.57 L1276.51 326.36 L1279.79 321.35 L1283.19 316.65 L1286.81 312.14 L1290.58 307.91 L1294.59 303.85 L1298.76 300.05 L1303.18 296.40 L1307.89 292.91 L1312.88 289.56 L1318.06 286.44 L1323.55 283.45 L1329.23 280.65 L1335.39 277.92 L1341.76 275.36 L1348.51 272.92 L1355.64 270.60 L1363.18 268.38 L1370.97 266.30 L1379.37 264.29 L1388.06 262.41 L1397.21 260.61 L1406.86 258.91 L1427.73 255.73 L1450.84 252.86 L1476.61 250.25 L1505.06 247.90 L1536.40 245.78" fill="none" stroke="#FF00FF" stroke-width="3"/>
<path d="M1228.26 839.06 L1229.66 781.14 L1231.21 728.86 L1232.92 681.28 L1234.81 638.20 L1236.89 599.37 L1239.23 563.75 L1241.78 531.79 L1244.57 503.11 L1247.68 476.87 L1249.34 464.85 L1251.07 453.42 L1252.89 442.55 L1254.85 431.93 L1256.91 421.88 L1259.05 412.37 L1261.29 403.38 L1263.70 394.64 L1266.20 386.40 L1268.81 378.63 L1271.53 371.31 L1274.43 364.21 L1277.45 357.54 L1280.67 351.08 L1284.01 345.01 L1287.58 339.16 L1291.27 333.66 L1295.11 328.49 L1299.18 323.51 L1303.51 318.72 L1308.00 314.23 L1312.76 309.91 L1317.69 305.86 L1322.91 301.97 L1328.44 298.23 L1334.17 294.74 L1340.22 291.38 L1346.62 288.17 L1353.39 285.10 L1360.38 282.23 L1367.76 279.47 L1375.55 276.85 L1383.76 274.33 L1392.24 271.99 L1401.36 269.70 L1410.78 267.56 L1420.68 265.52 L1431.11 263.57 L1442.07 261.72 L1453.60 259.95 L1465.70 258.27 L1478.65 256.65 L1506.02 253.68 L1536.40 250.98" fill="none" stroke="#30A772" stroke-width="3"/>
</g>
<path d="M1224 224V477M1223 477H1537" stroke="#000" stroke-width="2" fill="none"/>
<path d="M1218 405H1224M1218 225H1224M1221 315H1224M1224 477V482M1366 477V482M1508 477V482M1295 477V480M1437 477V480" stroke="#000" stroke-width="2" fill="none"/>
<text x="1215.8" y="412" text-anchor="end" font-size="22" font-family="Liberation Sans, Arial, sans-serif" font-weight="bold">0.8</text>
<text x="1215.8" y="232" text-anchor="end" font-size="22" font-family="Liberation Sans, Arial, sans-serif" font-weight="bold">1.0</text>
<text x="1224" y="501.8" text-anchor="middle" font-size="22" font-family="Liberation Sans, Arial, sans-serif" font-weight="bold">0.0</text>
<text x="1366" y="501.8" text-anchor="middle" font-size="22" font-family="Liberation Sans, Arial, sans-serif" font-weight="bold">0.1</text>
<text x="1508" y="501.8" text-anchor="middle" font-size="22" font-family="Liberation Sans, Arial, sans-serif" font-weight="bold">0.2</text>
<polygon points="1412.9,332.02 1427.9,332.02 1420.4,344.77" fill="#30A772"/>
<text x="1452.1" y="344.9" font-size="23" font-family="Liberation Sans, Arial, sans-serif">T11A</text>
<polygon points="1420,356.7 1428.2,364.9 1420,373.1 1411.8,364.9" fill="#FF00FF"/>
<text x="1452.1" y="372.7" font-size="23" font-family="Liberation Sans, Arial, sans-serif">L7A</text>
<polygon points="1411.7,393.5 1424.9,386.25 1424.9,400.75" fill="#808000"/>
<text x="1452.1" y="401.1" font-size="23" font-family="Liberation Sans, Arial, sans-serif">T16A</text>
<polygon points="1420.5,414.64 1427.19,425.76 1413.81,425.76" fill="#fff" stroke="#000" stroke-width="2"/>
<text x="1452.1" y="429.2" font-size="23" font-family="Liberation Sans, Arial, sans-serif">wt</text>
<text transform="translate(1635.48,68.8) scale(0.94,1)" font-size="81" font-family="Liberation Sans, Arial, sans-serif" font-weight="bold">C</text>
<text transform="translate(1727,323.5) rotate(-90)" text-anchor="middle" font-size="41.3" font-family="Liberation Sans, Arial, sans-serif" font-weight="bold">Bound Fraction</text>
<text x="2099.8" y="664" text-anchor="middle" font-size="41.4" font-family="Liberation Sans, Arial, sans-serif" font-weight="bold">[latex] (w/v%)</text>
<clipPath id="clipmC"><rect x="1795.5" y="78" width="608.5" height="489.5"/></clipPath>
<g clip-path="url(#clipmC)">
<path d="M1822.49 374.12V356.36M1816.99 374.12H1827.99M1816.99 356.36H1827.99" stroke="#8000FF" stroke-width="2" fill="none"/>
<path d="M1825.86 329.72V311.96M1820.36 329.72H1831.36M1820.36 311.96H1831.36" stroke="#8000FF" stroke-width="2" fill="none"/>
<path d="M1830.35 285.32V267.56M1824.85 285.32H1835.85M1824.85 267.56H1835.85" stroke="#8000FF" stroke-width="2" fill="none"/>
<path d="M1840.46 226.26V199.62M1834.96 226.26H1845.96M1834.96 199.62H1845.96" stroke="#8000FF" stroke-width="2" fill="none"/>
<path d="M1874.14 164.55V137.91M1868.64 164.55H1879.64M1868.64 137.91H1879.64" stroke="#8000FF" stroke-width="2" fill="none"/>
<path d="M1930.28 147.68V113.04M1924.78 147.68H1935.78M1924.78 113.04H1935.78" stroke="#8000FF" stroke-width="2" fill="none"/>
<path d="M2042.56 118.37V100.61M2037.06 118.37H2048.06M2037.06 100.61H2048.06" stroke="#8000FF" stroke-width="2" fill="none"/>
<polygon points="1826.87,545.5 1813.57,537.65 1813.57,553.35" fill="#8000FF"/>
<polygon points="1831.36,365.24 1818.06,357.39 1818.06,373.09" fill="#8000FF"/>
<polygon points="1834.73,320.84 1821.43,312.99 1821.43,328.69" fill="#8000FF"/>
<polygon points="1839.22,276.44 1825.92,268.59 1825.92,284.29" fill="#8000FF"/>
<polygon points="1849.32,212.94 1836.02,205.09 1836.02,220.79" fill="#8000FF"/>
<polygon points="1883.01,151.23 1869.71,143.38 1869.71,159.08" fill="#8000FF"/>
<polygon points="1939.15,130.36 1925.85,122.51 1925.85,138.21" fill="#8000FF"/>
<polygon points="2051.43,109.49 2038.13,101.64 2038.13,117.34" fill="#8000FF"/>
<polygon points="2388.27,101.5 2374.97,93.65 2374.97,109.35" fill="#8000FF"/>
<path d="M1817.21 342.59V324.83M1811.71 342.59H1822.71M1811.71 324.83H1822.71" stroke="#FF8000" stroke-width="2" fill="none"/>
<path d="M1823.28 305.3V287.54M1817.78 305.3H1828.78M1817.78 287.54H1828.78" stroke="#FF8000" stroke-width="2" fill="none"/>
<path d="M1829.23 270.66V252.9M1823.73 270.66H1834.73M1823.73 252.9H1834.73" stroke="#FF8000" stroke-width="2" fill="none"/>
<path d="M1840.46 224.49V197.85M1834.96 224.49H1845.96M1834.96 197.85H1845.96" stroke="#FF8000" stroke-width="2" fill="none"/>
<path d="M1874.14 157.44V130.8M1868.64 157.44H1879.64M1868.64 130.8H1879.64" stroke="#FF8000" stroke-width="2" fill="none"/>
<path d="M1930.28 137.02V103.28M1924.78 137.02H1935.78M1924.78 103.28H1935.78" stroke="#FF8000" stroke-width="2" fill="none"/>
<path d="M2042.56 113.04V95.28M2037.06 113.04H2048.06M2037.06 95.28H2048.06" stroke="#FF8000" stroke-width="2" fill="none"/>
<polygon points="1818,538.25 1824.28,541.88 1824.28,549.12 1818,552.75 1811.72,549.12 1811.72,541.88" fill="#FF8000"/>
<polygon points="1817.21,326.46 1823.49,330.09 1823.49,337.34 1817.21,340.96 1810.94,337.34 1810.94,330.09" fill="#FF8000"/>
<polygon points="1823.28,289.17 1829.56,292.79 1829.56,300.04 1823.28,303.67 1817,300.04 1817,292.79" fill="#FF8000"/>
<polygon points="1829.23,254.53 1835.51,258.16 1835.51,265.41 1829.23,269.03 1822.95,265.41 1822.95,258.16" fill="#FF8000"/>
<polygon points="1840.46,203.92 1846.73,207.54 1846.73,214.79 1840.46,218.42 1834.18,214.79 1834.18,207.54" fill="#FF8000"/>
<polygon points="1874.14,136.87 1880.42,140.5 1880.42,147.75 1874.14,151.37 1867.86,147.75 1867.86,140.5" fill="#FF8000"/>
<polygon points="1930.28,112.9 1936.56,116.52 1936.56,123.77 1930.28,127.4 1924,123.77 1924,116.52" fill="#FF8000"/>
<polygon points="2042.56,96.91 2048.84,100.54 2048.84,107.79 2042.56,111.41 2036.28,107.79 2036.28,100.54" fill="#FF8000"/>
<polygon points="2379.4,94.25 2385.68,97.88 2385.68,105.12 2379.4,108.75 2373.12,105.12 2373.12,97.88" fill="#FF8000"/>
<path d="M1819.91 441.16V426.06M1814.41 441.16H1825.41M1814.41 426.06H1825.41" stroke="#000" stroke-width="2" fill="none"/>
<path d="M1823.61 355.02V328.38M1818.11 355.02H1829.11M1818.11 328.38H1829.11" stroke="#000" stroke-width="2" fill="none"/>
<path d="M1829 272.88V255.12M1823.5 272.88H1834.5M1823.5 255.12H1834.5" stroke="#000" stroke-width="2" fill="none"/>
<path d="M1840.46 213.83V187.19M1834.96 213.83H1845.96M1834.96 187.19H1845.96" stroke="#000" stroke-width="2" fill="none"/>
<path d="M1874.14 161.44V135.69M1868.64 161.44H1879.64M1868.64 135.69H1879.64" stroke="#000" stroke-width="2" fill="none"/>
<path d="M1930.28 144.12V108.6M1924.78 144.12H1935.78M1924.78 108.6H1935.78" stroke="#000" stroke-width="2" fill="none"/>
<path d="M2042.56 122.81V105.05M2037.06 122.81H2048.06M2037.06 105.05H2048.06" stroke="#000" stroke-width="2" fill="none"/>
<polygon points="1818,538.35 1824.69,549.47 1811.31,549.47" fill="#fff" stroke="#000" stroke-width="2"/>
<polygon points="1819.91,426.46 1826.6,437.59 1813.22,437.59" fill="#fff" stroke="#000" stroke-width="2"/>
<polygon points="1823.61,334.55 1830.3,345.68 1816.93,345.68" fill="#fff" stroke="#000" stroke-width="2"/>
<polygon points="1829,256.85 1835.69,267.98 1822.32,267.98" fill="#fff" stroke="#000" stroke-width="2"/>
<polygon points="1840.46,193.36 1847.14,204.49 1833.77,204.49" fill="#fff" stroke="#000" stroke-width="2"/>
<polygon points="1874.14,141.41 1880.83,152.54 1867.45,152.54" fill="#fff" stroke="#000" stroke-width="2"/>
<polygon points="1930.28,119.21 1936.97,130.34 1923.59,130.34" fill="#fff" stroke="#000" stroke-width="2"/>
<polygon points="2042.56,106.78 2049.25,117.91 2035.87,117.91" fill="#fff" stroke="#000" stroke-width="2"/>
<polygon points="2379.4,94.35 2386.09,105.47 2372.71,105.47" fill="#fff" stroke="#000" stroke-width="2"/>
<path d="M1818.00 545.50 L1819.02 487.54 L1820.17 437.50 L1821.49 394.01 L1823.00 356.09 L1824.72 323.37 L1826.72 294.55 L1828.99 269.68 L1830.27 258.29 L1831.63 247.73 L1833.08 237.94 L1834.62 228.89 L1836.31 220.24 L1838.10 212.27 L1840.06 204.69 L1842.13 197.73 L1844.31 191.35 L1846.68 185.29 L1849.26 179.57 L1851.98 174.33 L1854.92 169.40 L1858.01 164.88 L1861.35 160.63 L1864.96 156.64 L1868.85 152.89 L1872.93 149.47 L1877.33 146.26 L1882.05 143.26 L1887.13 140.45 L1892.58 137.83 L1898.42 135.38 L1904.69 133.09 L1911.39 130.97 L1918.57 128.99 L1926.24 127.14 L1934.62 125.39 L1943.37 123.80 L1952.91 122.29 L1963.07 120.89 L1973.90 119.60 L1985.65 118.37 L1998.15 117.24 L2025.82 115.20 L2057.86 113.41 L2094.83 111.85 L2137.03 110.50 L2185.75 109.33 L2241.45 108.31 L2305.79 107.42 L2379.40 106.65" fill="none" stroke="#000" stroke-width="3" stroke-dasharray="7 4"/>
<path d="M1818.00 545.50 L1818.62 483.47 L1819.39 428.56 L1820.29 382.10 L1821.36 341.86 L1822.60 307.69 L1824.05 278.45 L1825.75 253.41 L1827.75 231.82 L1828.86 222.37 L1830.08 213.40 L1831.38 205.23 L1832.82 197.51 L1834.34 190.50 L1836.02 183.90 L1837.79 177.91 L1839.73 172.30 L1841.85 167.04 L1844.09 162.28 L1846.53 157.84 L1849.18 153.69 L1852.07 149.84 L1855.10 146.35 L1858.40 143.11 L1861.96 140.09 L1865.81 137.29 L1870.08 134.63 L1874.57 132.23 L1879.54 129.96 L1884.76 127.91 L1890.51 125.97 L1896.68 124.19 L1903.32 122.54 L1910.44 121.02 L1918.24 119.60 L1926.59 118.28 L1935.72 117.05 L1945.48 115.93 L1955.91 114.89 L1979.60 113.02 L2007.03 111.41 L2039.22 110.03 L2076.54 108.84 L2120.30 107.81 L2171.05 106.93 L2230.48 106.18 L2299.37 105.53 L2379.40 104.97" fill="none" stroke="#FF8000" stroke-width="3"/>
<path d="M1818.00 545.50 L1818.75 486.80 L1819.67 433.92 L1820.76 388.44 L1822.02 349.60 L1823.48 316.08 L1825.19 287.00 L1827.19 261.81 L1828.30 250.60 L1829.48 240.26 L1830.74 230.72 L1832.14 221.63 L1833.62 213.29 L1835.25 205.38 L1836.98 198.15 L1838.81 191.53 L1840.81 185.28 L1842.99 179.38 L1845.29 174.01 L1847.80 168.96 L1850.52 164.22 L1853.39 159.91 L1856.49 155.86 L1859.86 152.08 L1863.50 148.55 L1867.32 145.33 L1871.55 142.26 L1876.00 139.46 L1880.79 136.86 L1886.07 134.38 L1891.61 132.13 L1897.70 129.99 L1904.08 128.05 L1911.08 126.21 L1918.57 124.50 L1926.59 122.92 L1935.35 121.43 L1944.71 120.05 L1954.70 118.78 L1965.58 117.58 L1989.53 115.45 L2017.42 113.59 L2049.53 111.99 L2086.64 110.60 L2129.74 109.40 L2179.26 108.35 L2236.73 107.45 L2302.79 106.66 L2379.40 105.98" fill="none" stroke="#8000FF" stroke-width="3"/>
</g>
<path d="M1795.5 78V567.5M1794 567.5H2404" stroke="#000" stroke-width="3" fill="none" stroke-linecap="butt"/>
<path d="M1786 545.5H1795.5M1786 456.5H1795.5M1786 367.5H1795.5M1786 279.5H1795.5M1786 190.5H1795.5M1786 101.5H1795.5M1791 501.5H1795.5M1791 412.5H1795.5M1791 323.5H1795.5M1791 234.5H1795.5M1791 145.5H1795.5M1818.5 567.5V578M1930.5 567.5V578M2042.5 567.5V578M2154.5 567.5V578M2267.5 567.5V578M2379.5 567.5V578M1874.5 567.5V573M1986.5 567.5V573M2098.5 567.5V573M2210.5 567.5V573M2323.5 567.5V573" stroke="#000" stroke-width="3" fill="none"/>
<text x="1780.2" y="553.8" text-anchor="end" font-size="29" font-family="Liberation Sans, Arial, sans-serif" font-weight="bold">0.0</text>
<text x="1780.2" y="465" text-anchor="end" font-size="29" font-family="Liberation Sans, Arial, sans-serif" font-weight="bold">0.2</text>
<text x="1780.2" y="376.2" text-anchor="end" font-size="29" font-family="Liberation Sans, Arial, sans-serif" font-weight="bold">0.4</text>
<text x="1780.2" y="287.4" text-anchor="end" font-size="29" font-family="Liberation Sans, Arial, sans-serif" font-weight="bold">0.6</text>
<text x="1780.2" y="198.6" text-anchor="end" font-size="29" font-family="Liberation Sans, Arial, sans-serif" font-weight="bold">0.8</text>
<text x="1780.2" y="109.8" text-anchor="end" font-size="29" font-family="Liberation Sans, Arial, sans-serif" font-weight="bold">1.0</text>
<text x="1818" y="605.7" text-anchor="middle" font-size="29" font-family="Liberation Sans, Arial, sans-serif" font-weight="bold">0.0</text>
<text x="1930.28" y="605.7" text-anchor="middle" font-size="29" font-family="Liberation Sans, Arial, sans-serif" font-weight="bold">0.1</text>
<text x="2042.56" y="605.7" text-anchor="middle" font-size="29" font-family="Liberation Sans, Arial, sans-serif" font-weight="bold">0.2</text>
<text x="2154.84" y="605.7" text-anchor="middle" font-size="29" font-family="Liberation Sans, Arial, sans-serif" font-weight="bold">0.3</text>
<text x="2267.12" y="605.7" text-anchor="middle" font-size="29" font-family="Liberation Sans, Arial, sans-serif" font-weight="bold">0.4</text>
<text x="2379.4" y="605.7" text-anchor="middle" font-size="29" font-family="Liberation Sans, Arial, sans-serif" font-weight="bold">0.5</text>
<clipPath id="clipiC"><rect x="2052" y="222" width="312.4" height="255"/></clipPath>
<g clip-path="url(#clipiC)">
<path d="M2057.68 777.6V741.6M2053.68 777.6H2061.68M2053.68 741.6H2061.68" stroke="#8000FF" stroke-width="2" fill="none"/>
<path d="M2061.94 687.6V651.6M2057.94 687.6H2065.94M2057.94 651.6H2065.94" stroke="#8000FF" stroke-width="2" fill="none"/>
<path d="M2067.62 597.6V561.6M2063.62 597.6H2071.62M2063.62 561.6H2071.62" stroke="#8000FF" stroke-width="2" fill="none"/>
<path d="M2080.4 477.9V423.9M2076.4 477.9H2084.4M2076.4 423.9H2084.4" stroke="#8000FF" stroke-width="2" fill="none"/>
<path d="M2123 352.8V298.8M2119 352.8H2127M2119 298.8H2127" stroke="#8000FF" stroke-width="2" fill="none"/>
<path d="M2194 318.6V248.4M2190 318.6H2198M2190 248.4H2198" stroke="#8000FF" stroke-width="2" fill="none"/>
<path d="M2336 259.2V223.2M2332 259.2H2340M2332 223.2H2340" stroke="#8000FF" stroke-width="2" fill="none"/>
<polygon points="2065.13,759.6 2053.96,753.01 2053.96,766.19" fill="#8000FF"/>
<polygon points="2069.39,669.6 2058.22,663.01 2058.22,676.19" fill="#8000FF"/>
<polygon points="2075.07,579.6 2063.9,573.01 2063.9,586.19" fill="#8000FF"/>
<polygon points="2087.85,450.9 2076.68,444.31 2076.68,457.49" fill="#8000FF"/>
<polygon points="2130.45,325.8 2119.28,319.21 2119.28,332.39" fill="#8000FF"/>
<polygon points="2201.45,283.5 2190.28,276.91 2190.28,290.09" fill="#8000FF"/>
<polygon points="2343.45,241.2 2332.28,234.61 2332.28,247.79" fill="#8000FF"/>
<polygon points="2769.45,225 2758.28,218.41 2758.28,231.59" fill="#8000FF"/>
<path d="M2058.67 638.1V602.1M2054.67 638.1H2062.67M2054.67 602.1H2062.67" stroke="#FF8000" stroke-width="2" fill="none"/>
<path d="M2066.2 567.9V531.9M2062.2 567.9H2070.2M2062.2 531.9H2070.2" stroke="#FF8000" stroke-width="2" fill="none"/>
<path d="M2080.4 474.3V420.3M2076.4 474.3H2084.4M2076.4 420.3H2084.4" stroke="#FF8000" stroke-width="2" fill="none"/>
<path d="M2123 338.4V284.4M2119 338.4H2127M2119 284.4H2127" stroke="#FF8000" stroke-width="2" fill="none"/>
<path d="M2194 297V228.6M2190 297H2198M2190 228.6H2198" stroke="#FF8000" stroke-width="2" fill="none"/>
<path d="M2336 248.4V212.4M2332 248.4H2340M2332 212.4H2340" stroke="#FF8000" stroke-width="2" fill="none"/>
<polygon points="2058.67,614.01 2063.95,617.05 2063.95,623.14 2058.67,626.19 2053.4,623.14 2053.4,617.05" fill="#FF8000"/>
<polygon points="2066.2,543.81 2071.47,546.86 2071.47,552.94 2066.2,555.99 2060.93,552.94 2060.93,546.86" fill="#FF8000"/>
<polygon points="2080.4,441.21 2085.67,444.25 2085.67,450.35 2080.4,453.39 2075.13,450.35 2075.13,444.25" fill="#FF8000"/>
<polygon points="2123,305.31 2128.27,308.35 2128.27,314.44 2123,317.49 2117.73,314.44 2117.73,308.35" fill="#FF8000"/>
<polygon points="2194,256.71 2199.27,259.75 2199.27,265.85 2194,268.89 2188.73,265.85 2188.73,259.75" fill="#FF8000"/>
<polygon points="2336,224.31 2341.27,227.36 2341.27,233.44 2336,236.49 2330.73,233.44 2330.73,227.36" fill="#FF8000"/>
<polygon points="2762,218.91 2767.27,221.96 2767.27,228.04 2762,231.09 2756.73,228.04 2756.73,221.96" fill="#FF8000"/>
<path d="M2054.41 913.5V882.9M2050.41 913.5H2058.41M2050.41 882.9H2058.41" stroke="#000" stroke-width="2" fill="none"/>
<path d="M2059.1 738.9V684.9M2055.1 738.9H2063.1M2055.1 684.9H2063.1" stroke="#000" stroke-width="2" fill="none"/>
<path d="M2065.92 572.4V536.4M2061.92 572.4H2069.92M2061.92 536.4H2069.92" stroke="#000" stroke-width="2" fill="none"/>
<path d="M2080.4 452.7V398.7M2076.4 452.7H2084.4M2076.4 398.7H2084.4" stroke="#000" stroke-width="2" fill="none"/>
<path d="M2123 346.5V294.3M2119 346.5H2127M2119 294.3H2127" stroke="#000" stroke-width="2" fill="none"/>
<path d="M2194 311.4V239.4M2190 311.4H2198M2190 239.4H2198" stroke="#000" stroke-width="2" fill="none"/>
<path d="M2336 268.2V232.2M2332 268.2H2340M2332 232.2H2340" stroke="#000" stroke-width="2" fill="none"/>
<polygon points="2054.41,893.34 2058.96,900.9 2049.87,900.9" fill="#fff" stroke="#000" stroke-width="2"/>
<polygon points="2059.1,707.04 2063.65,714.6 2054.55,714.6" fill="#fff" stroke="#000" stroke-width="2"/>
<polygon points="2065.92,549.54 2070.46,557.1 2061.37,557.1" fill="#fff" stroke="#000" stroke-width="2"/>
<polygon points="2080.4,420.84 2084.95,428.4 2075.85,428.4" fill="#fff" stroke="#000" stroke-width="2"/>
<polygon points="2123,315.54 2127.55,323.1 2118.45,323.1" fill="#fff" stroke="#000" stroke-width="2"/>
<polygon points="2194,270.54 2198.55,278.1 2189.45,278.1" fill="#fff" stroke="#000" stroke-width="2"/>
<polygon points="2336,245.34 2340.55,252.9 2331.45,252.9" fill="#fff" stroke="#000" stroke-width="2"/>
<polygon points="2762,220.14 2766.55,227.7 2757.45,227.7" fill="#fff" stroke="#000" stroke-width="2"/>
<path d="M2056.26 824.93 L2057.61 767.26 L2059.11 714.95 L2060.76 668.09 L2062.59 625.37 L2064.60 587.02 L2066.85 551.95 L2069.31 520.58 L2072.05 492.10 L2075.05 466.51 L2076.68 454.63 L2078.38 443.36 L2080.17 432.66 L2082.09 422.23 L2084.05 412.65 L2086.16 403.33 L2088.36 394.54 L2090.65 386.24 L2093.12 378.19 L2095.68 370.62 L2098.35 363.49 L2101.21 356.60 L2104.18 350.13 L2107.35 343.88 L2110.64 338.02 L2114.06 332.51 L2117.70 327.21 L2121.58 322.11 L2125.60 317.33 L2129.87 312.73 L2134.30 308.43 L2139.00 304.31 L2143.99 300.35 L2149.15 296.65 L2154.62 293.10 L2160.42 289.71 L2166.41 286.54 L2172.75 283.51 L2179.45 280.61 L2186.53 277.84 L2194.01 275.20 L2201.74 272.74 L2209.89 270.39 L2218.49 268.15 L2227.55 266.01 L2237.09 263.98 L2247.14 262.05 L2257.71 260.21 L2268.84 258.47 L2280.53 256.81 L2305.74 253.73 L2333.54 250.97 L2364.40 248.46" fill="none" stroke="#000" stroke-width="3" stroke-dasharray="7 4"/>
<path d="M2056.26 711.36 L2057.35 661.20 L2058.57 616.25 L2059.93 576.21 L2061.46 540.14 L2063.18 507.52 L2065.08 478.62 L2067.19 452.78 L2069.58 429.30 L2072.22 408.50 L2073.65 398.94 L2075.20 389.65 L2076.78 381.15 L2078.49 372.91 L2080.28 365.16 L2082.21 357.68 L2084.23 350.66 L2086.35 344.08 L2088.56 337.92 L2090.93 331.98 L2093.40 326.43 L2096.06 321.09 L2098.90 315.96 L2101.86 311.18 L2104.94 306.72 L2108.23 302.44 L2111.74 298.35 L2115.39 294.53 L2119.27 290.88 L2123.42 287.40 L2127.72 284.16 L2132.29 281.07 L2137.15 278.12 L2142.19 275.37 L2147.66 272.70 L2153.33 270.22 L2159.35 267.86 L2165.72 265.61 L2172.46 263.48 L2179.45 261.50 L2186.99 259.58 L2194.80 257.79 L2203.05 256.10 L2211.93 254.46 L2231.00 251.48 L2252.19 248.81 L2275.89 246.40 L2302.36 244.23 L2331.61 242.29 L2364.40 240.55" fill="none" stroke="#FF8000" stroke-width="3"/>
<path d="M2056.26 765.72 L2057.47 712.03 L2058.81 663.83 L2060.30 620.67 L2061.98 581.33 L2063.85 545.92 L2065.92 514.27 L2068.22 485.76 L2070.78 460.08 L2073.60 437.15 L2075.15 426.40 L2076.78 416.22 L2078.49 406.60 L2080.33 397.25 L2082.21 388.69 L2084.23 380.38 L2086.35 372.56 L2088.56 365.21 L2090.93 358.10 L2093.40 351.42 L2095.98 345.15 L2098.74 339.10 L2101.61 333.42 L2104.68 327.96 L2107.87 322.84 L2111.28 317.91 L2114.91 313.19 L2118.68 308.77 L2122.70 304.53 L2126.86 300.57 L2131.29 296.77 L2135.89 293.22 L2140.76 289.83 L2145.93 286.58 L2151.42 283.47 L2157.10 280.58 L2163.12 277.81 L2169.48 275.17 L2176.22 272.65 L2183.34 270.26 L2190.86 267.97 L2198.65 265.85 L2206.87 263.82 L2215.54 261.89 L2224.68 260.06 L2234.31 258.32 L2244.45 256.66 L2255.33 255.06 L2278.42 252.16 L2304.16 249.52 L2332.82 247.13 L2364.40 245.00" fill="none" stroke="#8000FF" stroke-width="3"/>
</g>
<path d="M2052 224V477M2051 477H2365" stroke="#000" stroke-width="2" fill="none"/>
<path d="M2046 405H2052M2046 225H2052M2049 315H2052M2052 477V482M2194 477V482M2336 477V482M2123 477V480M2265 477V480" stroke="#000" stroke-width="2" fill="none"/>
<text x="2043.8" y="412" text-anchor="end" font-size="22" font-family="Liberation Sans, Arial, sans-serif" font-weight="bold">0.8</text>
<text x="2043.8" y="232" text-anchor="end" font-size="22" font-family="Liberation Sans, Arial, sans-serif" font-weight="bold">1.0</text>
<text x="2052" y="501.8" text-anchor="middle" font-size="22" font-family="Liberation Sans, Arial, sans-serif" font-weight="bold">0.0</text>
<text x="2194" y="501.8" text-anchor="middle" font-size="22" font-family="Liberation Sans, Arial, sans-serif" font-weight="bold">0.1</text>
<text x="2336" y="501.8" text-anchor="middle" font-size="22" font-family="Liberation Sans, Arial, sans-serif" font-weight="bold">0.2</text>
<polygon points="2232.15,347.3 2218.85,339.45 2218.85,355.15" fill="#8000FF"/>
<text x="2256.6" y="355.9" font-size="23" font-family="Liberation Sans, Arial, sans-serif">F30L</text>
<polygon points="2224,368.55 2230.28,372.18 2230.28,379.43 2224,383.05 2217.72,379.43 2217.72,372.18" fill="#FF8000"/>
<text x="2256.6" y="383.8" font-size="23" font-family="Liberation Sans, Arial, sans-serif">T25A</text>
<polygon points="2223.8,396.94 2230.49,408.06 2217.11,408.06" fill="#fff" stroke="#000" stroke-width="2"/>
<text x="2256.6" y="411.8" font-size="23" font-family="Liberation Sans, Arial, sans-serif">wt</text>
</svg>
</body></html>
